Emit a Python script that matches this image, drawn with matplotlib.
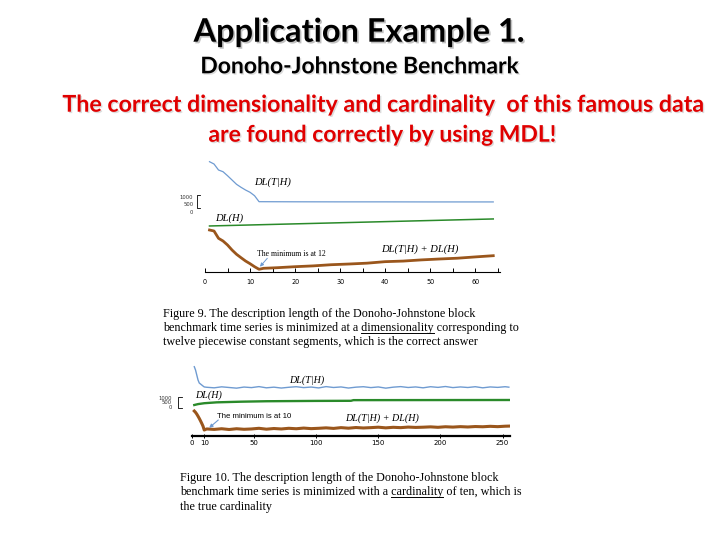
import matplotlib
matplotlib.use('Agg')
import matplotlib.pyplot as plt
import matplotlib.patheffects as pe
from matplotlib.lines import Line2D
from matplotlib.ticker import MultipleLocator, FixedLocator

W, H = 720, 540

# ---------------- Figure 9 data (dimensionality) ----------------
dim_k_blue = [1, 2, 3, 4, 5, 6, 7, 8, 9, 10, 11, 12, 20, 30, 40, 50, 64]
dim_dl_t_given_h = [4085, 3907, 3446, 3315, 3007, 2677, 2346, 2115, 1907, 1731, 1469, 1008,
                    1000, 995, 995, 990, 990]
dim_k_green = [1, 64]
dim_dl_h = [240, 780]
dim_k_brown = [1, 2, 3, 4, 5, 6, 7, 8, 9, 10, 11, 12, 13, 16, 20, 24, 28, 32, 36, 40, 44, 48,
               52, 56, 60, 64]
dim_dl_sum = [3231, 3154, 2592, 2385, 2077, 1692, 1362, 1100, 846, 638, 408, 208, 285, 330,
              408, 470, 560, 615, 680, 795, 840, 930, 1000, 1060, 1160, 1254]
dim_offset_blue = 4400
dim_offset_green = 3300
dim_offset_brown = 0
dim_ticks = [0, 10, 20, 30, 40, 50, 60]

# ---------------- Figure 10 data (cardinality) ----------------
card_k_tail = [12, 18, 24, 30, 36, 42, 48, 54, 60, 66, 72, 78, 84, 90, 96, 102, 108, 114, 120,
               126, 132, 138, 144, 150, 156, 162, 168, 174, 180, 186, 192, 198, 204, 210, 216,
               222, 228, 234, 240, 246, 252, 255]
card_k_head = [2, 3, 4, 5, 6, 7, 8, 9, 10]
card_dl_t_given_h_head = [2800, 2500, 2045, 1591, 1318, 1227, 1136, 1045, 960]
card_dl_t_given_h_tail = [930, 880, 970, 910, 850, 950, 900, 990, 880, 940,
                          860, 930, 980, 900, 950, 870, 990, 910, 960, 860,
                          940, 980, 900, 960, 850, 940, 990, 910, 960, 880,
                          980, 920, 1000, 900, 960, 910, 980, 880, 960, 920,
                          980, 940]
card_k_green = [2, 5, 10, 20, 40, 60, 100, 128, 130, 255]
card_dl_h = [318, 400, 480, 560, 620, 660, 690, 700, 760, 773]
card_dl_sum_head = [2270, 2150, 1990, 1800, 1600, 1380, 1150, 900, 545]
card_dl_sum_tail = [640, 600, 660, 590, 660, 610, 640, 700, 620, 680,
                    640, 700, 660, 720, 670, 700, 740, 690, 760, 710,
                    770, 730, 760, 800, 740, 790, 760, 810, 780, 800,
                    830, 790, 840, 810, 850, 820, 860, 840, 880, 850,
                    890, 900]
card_offset_blue = 3500
card_offset_green = 2500
card_offset_brown = 0
card_ticks = [0, 10, 50, 100, 150, 200, 250]

scale_labels = ['1000', '500', '0']

BLUE = '#6f9bd1'
GREEN = '#2a8a2a'
BROWN = '#9a561c'
RED = '#e00000'

fig = plt.figure(figsize=(7.2, 5.4), dpi=100)
fig.patch.set_facecolor('white')


def fx(x):
    return x / W


def fy(y):
    return 1 - y / H


def ftext(x, y, s, **kw):
    kw.setdefault('va', 'center')
    return fig.text(fx(x), fy(y), s, **kw)


shadow = [pe.SimplePatchShadow(offset=(1.2, -1.2), shadow_rgbFace='#999999', alpha=0.6), pe.Normal()]
shadow_light = [pe.SimplePatchShadow(offset=(1.0, -1.0), shadow_rgbFace='#bbbbbb', alpha=0.5), pe.Normal()]

# ---------------- Titles ----------------
ftext(359, 41.7, 'Application Example 1.', ha='center', va='baseline', fontsize=23.4,
      family='Lato', weight='bold', color='black', path_effects=shadow)
ftext(359, 73.3, 'Donoho-Johnstone Benchmark', ha='center', va='baseline', fontsize=16.5,
      family='Lato', weight='bold', color='black', path_effects=shadow_light)
ftext(382, 111.7, 'The correct dimensionality and cardinality  of this famous data',
      ha='center', va='baseline', fontsize=16.7, family='Lato', weight='bold', color=RED,
      path_effects=shadow_light)
ftext(382, 141.7, 'are found correctly by using MDL!', ha='center', va='baseline', fontsize=16.5,
      family='Lato', weight='bold', color=RED, path_effects=shadow_light)

# ---------------- Chart 1 ----------------
ax1 = fig.add_axes([fx(205), fy(272), 295 / W, 122 / H])
ax1.set_xlim(0, 65.5)
ax1.set_ylim(0, 122 * 1000 / 13)
ax1.plot(dim_k_blue, [v + dim_offset_blue for v in dim_dl_t_given_h], color=BLUE, lw=0.9)
ax1.plot(dim_k_green, [v + dim_offset_green for v in dim_dl_h], color=GREEN, lw=1.1)
ax1.plot(dim_k_brown, [v + dim_offset_brown for v in dim_dl_sum], color=BROWN, lw=2.0,
         solid_joinstyle='round')
for s in ['top', 'right', 'left']:
    ax1.spines[s].set_visible(False)
ax1.spines['bottom'].set_linewidth(0.8)
ax1.set_yticks([])
ax1.xaxis.set_major_locator(FixedLocator(dim_ticks))
ax1.xaxis.set_minor_locator(MultipleLocator(5))
ax1.tick_params(axis='x', which='both', direction='in', length=3, width=0.7, labelsize=4.7,
                pad=5)
ax1.patch.set_alpha(0)

# scale bracket chart 1
b_lo, b_hi = 4900, 5900
kx0, kx1 = -1.8, -1.1
ax1.plot([kx1, kx0, kx0, kx1], [b_hi, b_hi, b_lo, b_lo], color='black', lw=0.6, clip_on=False)
for lab, yv in zip(scale_labels, [5700, 5200, 4600]):
    ax1.text(-2.6, yv, lab, ha='right', va='center', fontsize=3.8, color='#333333')

serif = 'Liberation Serif'
ftext(273, 182, 'DL(T|H)', ha='center', fontsize=7.6, family=serif, style='italic')
ftext(229, 218.3, 'DL(H)', ha='center', fontsize=7.6, family=serif, style='italic')
ftext(420, 249.3, 'DL(T|H) + DL(H)', ha='center', fontsize=7.6, family=serif, style='italic')
ftext(291, 254.3, 'The minimum is at 12', ha='center', fontsize=5.6, family=serif)
imin1 = dim_dl_sum.index(min(dim_dl_sum))
ax1.annotate('', xy=(dim_k_brown[imin1] + 0.2, dim_dl_sum[imin1] + 200), xycoords='data',
             xytext=(267.3, H - 258.3), textcoords='figure pixels',
             arrowprops=dict(arrowstyle='-|>', color=BLUE, lw=0.7, mutation_scale=5,
                             shrinkA=0, shrinkB=0))

# ---------------- Chart 2 ----------------
ax2 = fig.add_axes([fx(191.8), fy(436), 318.3 / W, 76 / H])
ax2.set_xlim(0, 256)
ax2.set_ylim(0, 76 * 1000 / 11)
ax2.plot(card_k_head + card_k_tail,
         [v + card_offset_blue for v in card_dl_t_given_h_head + card_dl_t_given_h_tail],
         color=BLUE, lw=1.0)
ax2.plot(card_k_green, [v + card_offset_green for v in card_dl_h], color=GREEN, lw=1.7)
ax2.plot(card_k_head + card_k_tail,
         [v + card_offset_brown for v in card_dl_sum_head + card_dl_sum_tail],
         color=BROWN, lw=2.2, solid_joinstyle='round')
for s in ['top', 'right', 'left']:
    ax2.spines[s].set_visible(False)
ax2.spines['bottom'].set_linewidth(1.6)
ax2.set_yticks([])
ax2.xaxis.set_major_locator(FixedLocator(card_ticks))
ax2.tick_params(axis='x', which='major', direction='inout', length=3, width=0.7, labelsize=5,
                pad=1.5)
ax2.patch.set_alpha(0)

b2_lo, b2_hi = 2520, 3570
kx0, kx1 = -11.1, -7.9
ax2.plot([kx1, kx0, kx0, kx1], [b2_hi, b2_hi, b2_lo, b2_lo], color='black', lw=0.6,
         clip_on=False)
for lab, yv in zip(scale_labels, [3430, 3030, 2610]):
    ax2.text(-15.9, yv, lab, ha='right', va='center', fontsize=3.8, color='#333333')

ftext(306.5, 380, 'DL(T|H)', ha='center', fontsize=7.2, family=serif, style='italic')
ftext(209, 395, 'DL(H)', ha='center', fontsize=7.2, family=serif, style='italic')
ftext(382.5, 418.3, 'DL(T|H) + DL(H)', ha='center', fontsize=7.2, family=serif, style='italic')
ftext(254, 416, 'The minimum is at 10', ha='center', fontsize=5.6, family='Liberation Sans')
card_sum = card_dl_sum_head + card_dl_sum_tail
card_k = card_k_head + card_k_tail
imin2 = card_sum.index(min(card_sum))
ax2.annotate('', xy=(card_k[imin2] + 4, card_sum[imin2] + 200), xycoords='data',
             xytext=(218.3, H - 420), textcoords='figure pixels',
             arrowprops=dict(arrowstyle='-|>', color=BLUE, lw=0.8, mutation_scale=5,
                             shrinkA=0, shrinkB=0))

# ---------------- Captions ----------------
cap_fs = 8.7
renderer = fig.canvas.get_renderer()


def caption(x, y, text, underline=None):
    t = ftext(x, y, text, ha='left', va='baseline', fontsize=cap_fs, family=serif)
    if underline:
        pre = text[:text.index(underline)]
        tmp = ftext(x, y, pre, ha='left', va='baseline', fontsize=cap_fs, family=serif)
        w_pre = tmp.get_window_extent(renderer).width
        tmp.set_text(pre + underline)
        w_word = tmp.get_window_extent(renderer).width
        tmp.remove()
        x0 = x + w_pre
        x1 = x + w_word
        fig.add_artist(Line2D([fx(x0), fx(x1)], [fy(y + 1.8), fy(y + 1.8)], color='black',
                              lw=0.7, transform=fig.transFigure))
    return t


caption(163, 317.5, 'Figure 9. The description length of the Donoho-Johnstone block')
caption(163, 331, 'benchmark time series is minimized at a dimensionality corresponding to',
        underline='dimensionality')
caption(163, 344.5, 'twelve piecewise constant segments, which is the correct answer')

caption(180, 481.5, 'Figure 10. The description length of the Donoho-Johnstone block')
caption(180, 495.5, 'benchmark time series is minimized with a cardinality of ten, which is',
        underline='cardinality')
caption(180, 510, 'the true cardinality')

fig.savefig('out.png', dpi=100, facecolor='white')
